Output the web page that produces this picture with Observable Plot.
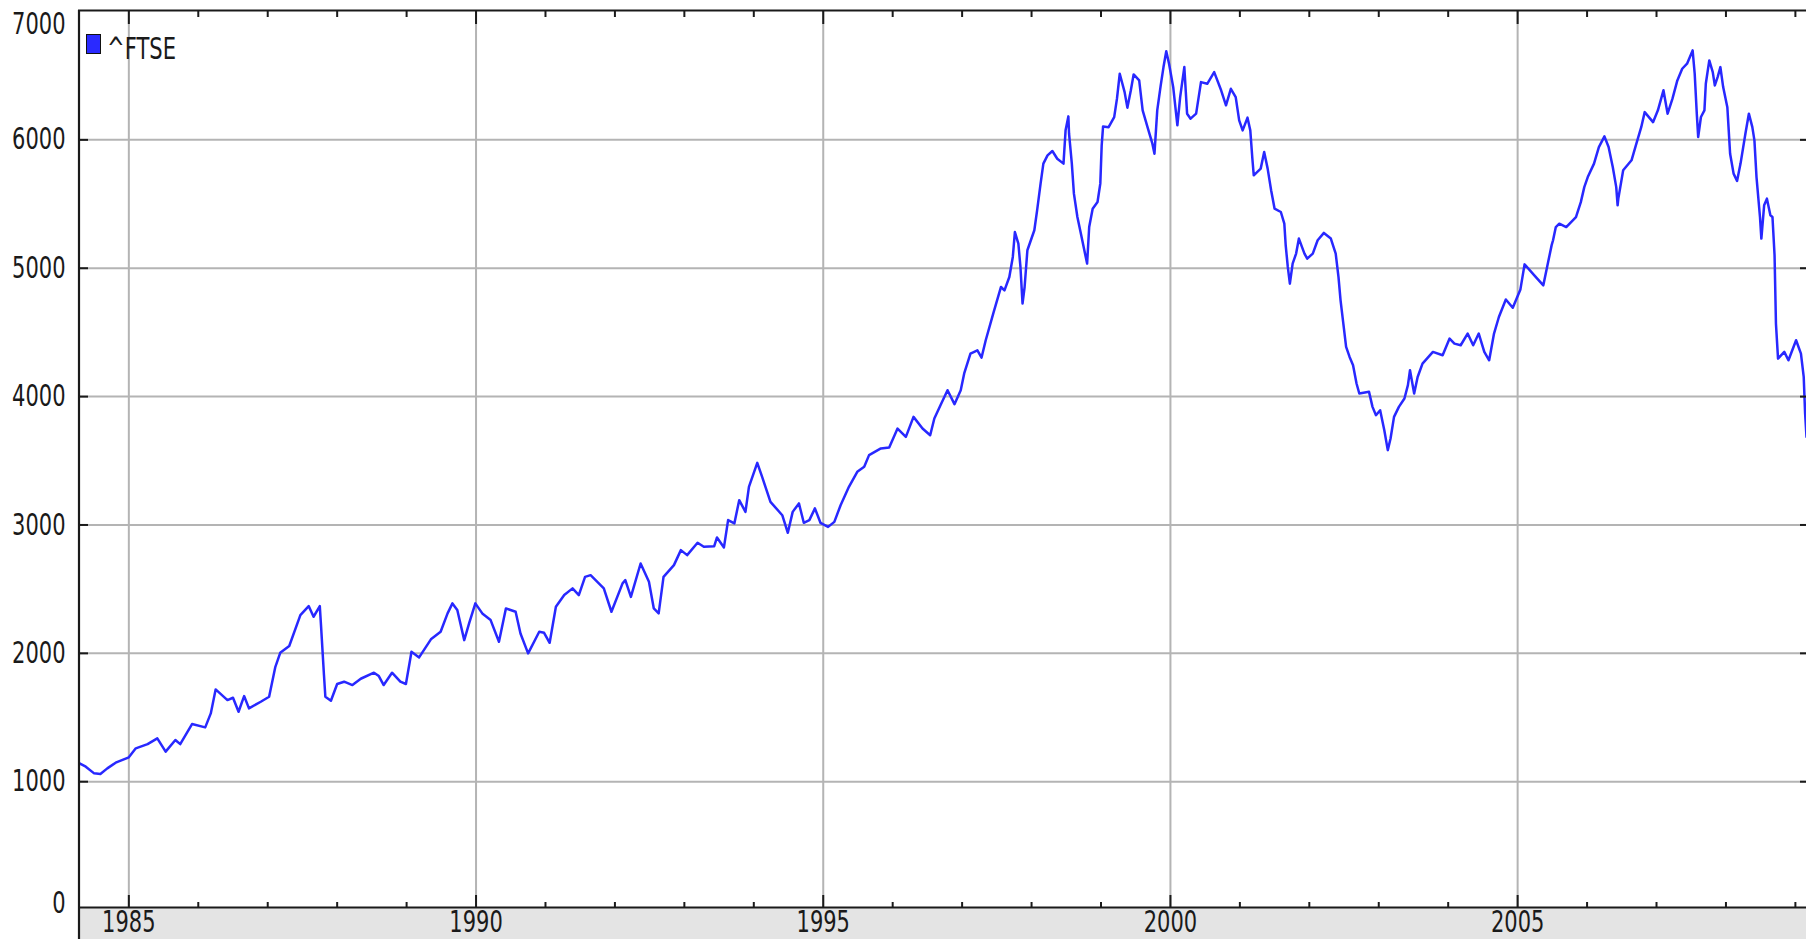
<!DOCTYPE html>
<html><head><meta charset="utf-8">
<script src="https://cdn.jsdelivr.net/npm/d3@7"></script>
<script src="https://cdn.jsdelivr.net/npm/@observablehq/plot@0.6"></script>
<style>
html,body{margin:0;padding:0;background:#fff;}
#wrap{position:relative;width:1806px;height:939px;overflow:hidden;}
#band{position:absolute;left:78px;top:908px;width:1728px;height:31px;background:#e4e4e4;}
#chart{position:absolute;left:0;top:0;}
#sw{position:absolute;left:86px;top:34px;width:12.5px;height:18px;background:#2a2aff;border:1.6px solid #111;}
#lb{position:absolute;left:107px;top:33px;font-family:"DejaVu Sans";font-size:31px;line-height:31px;color:#1a1a1a;transform:scaleX(0.68);transform-origin:0 0;white-space:nowrap;}
</style></head><body>
<div id="wrap"><div id="band"></div><div id="chart"></div><div id="sw"></div><div id="lb">^FTSE</div></div>
<script>
// decimal years and index values
const t = [
1984.29,1984.38,1984.50,1984.59,1984.69,1984.81,1985.00,1985.10,1985.27,1985.41,1985.53,1985.67,1985.74,1985.91,
1986.10,1986.18,1986.25,1986.42,1986.50,1986.58,1986.66,1986.73,1986.90,1987.02,1987.11,1987.18,1987.31,1987.47,
1987.59,1987.66,1987.75,1987.77,1987.81,1987.83,1987.91,1988.00,1988.10,1988.22,1988.34,1988.53,1988.60,1988.67,
1988.79,1988.91,1988.99,1989.05,1989.07,1989.18,1989.35,
1989.49,1989.59,1989.66,1989.73,1989.83,1989.90,1989.99,1990.09,1990.21,1990.33,1990.43,1990.57,1990.64,1990.75,
1990.91,1990.98,1991.06,1991.15,1991.27,1991.39,1991.48,1991.57,1991.65,1991.84,1991.95,1992.11,1992.15,1992.23,
1992.37,1992.49,1992.56,1992.63,1992.70,1992.85,1992.95,1993.04,1993.19,1993.28,1993.43,1993.47,1993.57,1993.63,
1993.72,1993.79,
1993.88,1993.93,1994.05,1994.12,1994.24,1994.41,1994.49,1994.56,1994.65,1994.72,1994.80,1994.88,1994.96,1995.07,
1995.16,1995.25,1995.37,1995.49,1995.59,1995.66,1995.83,1995.95,1996.07,1996.19,1996.30,1996.43,1996.54,1996.60,
1996.70,1996.79,1996.89,1996.98,1997.03,1997.12,1997.22,1997.28,1997.34,1997.45,
1997.56,1997.61,1997.68,1997.73,1997.76,1997.81,1997.84,1997.87,1997.90,1997.94,1998.04,1998.08,1998.13,1998.17,
1998.23,1998.30,1998.37,1998.46,1998.49,1998.53,1998.54,1998.58,1998.61,1998.66,1998.71,1998.80,1998.83,1998.88,
1998.95,1998.99,1999.01,1999.03,1999.11,1999.19,1999.23,1999.27,1999.34,1999.38,1999.43,1999.47,1999.55,1999.60,
1999.67,1999.74,1999.77,1999.81,1999.86,1999.90,1999.94,1999.98,2000.04,2000.10,2000.14,2000.20,2000.24,2000.29,
2000.37,2000.44,2000.53,2000.63,2000.73,2000.80,2000.87,2000.94,2000.99,2001.04,2001.11,2001.15,
2001.18,2001.20,2001.30,2001.35,2001.40,2001.45,2001.50,2001.59,2001.64,2001.66,2001.69,2001.72,2001.76,2001.81,
2001.85,2001.93,2001.97,2002.05,2002.12,2002.21,2002.31,2002.38,2002.42,2002.45,2002.49,2002.53,2002.58,2002.63,
2002.68,2002.72,2002.86,2002.91,2002.96,2003.02,2003.08,2003.13,2003.17,2003.22,2003.29,2003.37,2003.42,2003.45,
2003.51,2003.56,2003.63,2003.78,2003.92,2004.02,2004.09,2004.18,2004.28,2004.36,2004.44,2004.52,2004.59,2004.66,
2004.73,2004.83,2004.93,2005.04,2005.10,2005.25,2005.37,2005.44,2005.49,
2005.51,2005.55,2005.60,2005.70,2005.84,2005.91,2005.96,2006.01,2006.10,2006.17,2006.25,2006.31,2006.37,2006.42,
2006.44,2006.45,2006.52,2006.64,2006.71,2006.78,2006.83,2006.95,2007.02,2007.10,2007.16,2007.23,2007.30,2007.37,
2007.44,2007.52,2007.55,2007.58,2007.60,2007.64,2007.69,2007.71,2007.76,2007.81,2007.84,2007.88,2007.92,2007.96,
2008.02,2008.06,2008.11,2008.16,2008.21,2008.28,2008.33,2008.38,2008.41,2008.44,2008.49,2008.51,2008.55,2008.59,
2008.64,2008.67,2008.70,2008.72,2008.75,2008.84,2008.90,2009.01,2009.08,2009.12,2009.14,2009.16
];
const v = [
1143,1117,1065,1060,1104,1148,1190,1260,1293,1338,1234,1325,1293,1449,
1423,1532,1719,1636,1654,1545,1667,1571,1623,1662,1895,2004,2057,2298,
2368,2285,2368,2194,1831,1662,1631,1761,1779,1753,1802,1849,1823,1753,
1849,1779,1761,1948,2012,1968,2109,
2168,2311,2389,2337,2103,2233,2389,2311,2259,2090,2350,2324,2155,2000,
2168,2160,2082,2363,2454,2506,2454,2596,2609,2506,2324,2545,2570,2440,
2700,2557,2350,2311,2596,2687,2804,2765,2861,2830,2835,2903,2825,3038,
3012,3193,
3102,3297,3484,3375,3180,3076,2939,3102,3168,3017,3038,3129,3017,2985,
3024,3154,3297,3414,3453,3544,3596,3604,3751,3686,3842,3751,3699,3829,
3946,4050,3941,4050,4180,4335,4361,4304,4439,4650,
4854,4828,4932,5088,5282,5192,5010,4725,4854,5140,5296,5451,5659,5815,
5879,5913,5853,5815,6074,6183,6048,5815,5581,5399,5270,5036,5321,5464,
5516,5659,5957,6105,6099,6177,6321,6515,6372,6251,6386,6510,6463,6230,
6099,5970,5892,6230,6424,6567,6691,6593,6411,6113,6333,6567,6204,6165,
6204,6450,6437,6528,6386,6269,6398,6333,6152,6074,6173,6074,
5853,5724,5776,5905,5776,5607,5464,5438,5347,5179,5010,4880,5036,5114,
5231,5114,5075,5114,5218,5275,5231,5114,4932,4750,4569,4387,4309,4244,
4102,4024,4037,3920,3855,3894,3738,3583,3674,3842,3920,3985,4089,4205,
4024,4153,4257,4348,4322,4452,4413,4400,4491,4400,4491,4348,4283,4491,
4620,4757,4692,4835,5030,4938,4867,5050,5180,
5218,5321,5347,5321,5399,5515,5632,5710,5815,5944,6027,5944,5788,5632,
5490,5542,5763,5841,5970,6099,6216,6138,6230,6386,6204,6321,6463,6554,
6593,6697,6515,6204,6022,6178,6230,6437,6619,6528,6424,6489,6567,6411,
6255,5892,5737,5680,5815,6048,6204,6099,5996,5710,5399,5231,5490,5542,
5412,5399,5101,4569,4296,4348,4283,4439,4335,4153,3868,3686
];
const yearTicks = d3.range(1985, 2010);
const majorYears = [1985, 1990, 1995, 2000, 2005];
const yGrid = [1000, 2000, 3000, 4000, 5000, 6000];
const xDomain = [1984.275, 2009.16];
const yDomain = [20, 7000];

const data = t.map((d, i) => ({t: d, v: v[i]}));
const W = 1806, H = 939, mL = 78, mR = 0, mT = 11, mB = 32;
const pw = W - mL - mR, ph = H - mT - mB;
const ink = "#1a1a1a", grid = "#b4b4b4";
const minor = yearTicks.filter(y => y % 5 !== 0);
const lab = {tickSize: 0, fontSize: 30, fill: ink, label: null, tickFormat: d => String(d)};

const chart = Plot.plot({
  width: W, height: H,
  marginLeft: mL, marginRight: mR, marginTop: mT, marginBottom: mB,
  style: {background: "transparent", fontFamily: "DejaVu Sans", fontSize: "30px", color: ink, overflow: "visible"},
  x: {type: "linear", domain: xDomain, label: null},
  y: {type: "linear", domain: yDomain, label: null},
  marks: [
    Plot.gridX(majorYears, {stroke: grid, strokeOpacity: 1, strokeWidth: 2}),
    Plot.gridY(yGrid, {stroke: grid, strokeOpacity: 1, strokeWidth: 2}),
    Plot.line(data, {x: "t", y: "v", stroke: "#2828ff", strokeWidth: 2.5, clip: true}),
    // frame lines
    Plot.ruleX([xDomain[0]], {stroke: ink, strokeWidth: 2.2, insetBottom: -mB, insetTop: -1, dx: 0.5}),
    Plot.ruleY([yDomain[1]], {stroke: ink, strokeWidth: 2, dy: -1}),
    Plot.ruleY([yDomain[0]], {stroke: ink, strokeWidth: 2}),
    // bottom ticks
    Plot.ruleX(minor, {x: d => d, insetTop: ph - 5, stroke: ink, strokeWidth: 2}),
    Plot.ruleX(majorYears, {x: d => d, insetTop: ph - 12, stroke: ink, strokeWidth: 2}),
    // top ticks
    Plot.ruleX(minor, {x: d => d, insetBottom: ph - 6, stroke: ink, strokeWidth: 2}),
    Plot.ruleX(majorYears, {x: d => d, insetBottom: ph - 13, stroke: ink, strokeWidth: 2}),
    // left / right ticks
    Plot.ruleY(yGrid, {y: d => d, insetRight: pw - 10, stroke: ink, strokeWidth: 2}),
    Plot.ruleY(yGrid, {y: d => d, insetLeft: pw - 6, stroke: ink, strokeWidth: 2}),
    // labels
    Plot.axisY(yGrid, {...lab, tickPadding: 13}),
    Plot.axisY([7000], {...lab, tickPadding: 13, dy: 13}),
    Plot.axisY([0], {...lab, tickPadding: 13, dy: -7}),
    Plot.axisX(majorYears, {...lab, tickPadding: 3})
  ]
});

document.getElementById("chart").appendChild(chart);

// narrow the tick labels horizontally, like the reference's condensed glyphs
const sx = 0.7;
d3.select(chart).selectAll('g[aria-label$="tick label"] text').each(function () {
  const L = this.getComputedTextLength();
  if (L > 0) {
    this.setAttribute("textLength", (L * sx).toFixed(2));
    this.setAttribute("lengthAdjust", "spacingAndGlyphs");
  }
});
</script>
</body></html>
